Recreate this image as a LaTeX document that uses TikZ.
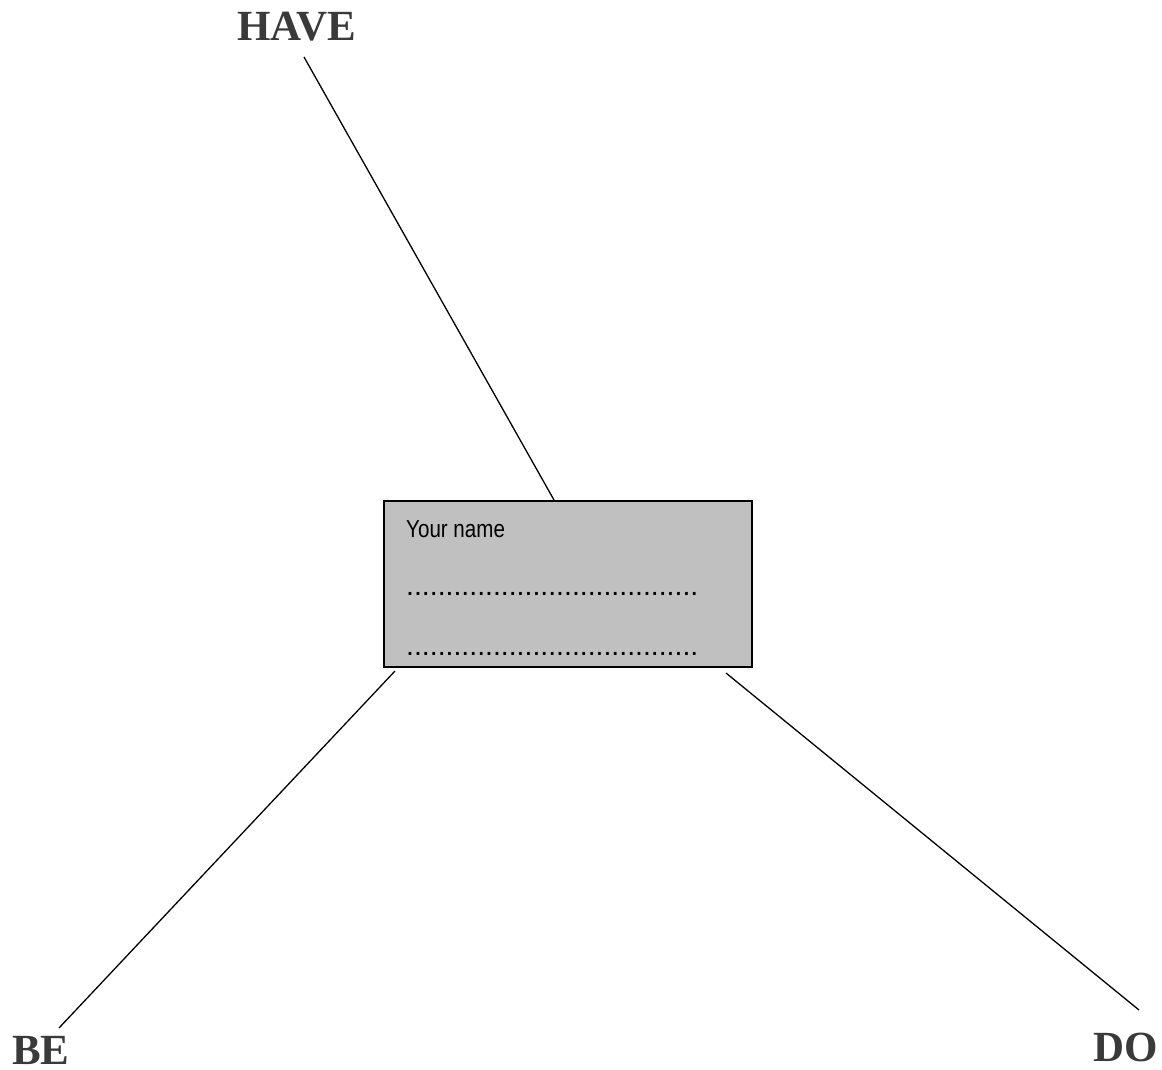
\documentclass[tikz,border=0pt]{standalone}
\usepackage{fontspec}
\setmainfont{Liberation Serif}
\newfontfamily\namefont[FakeStretch=0.84]{Liberation Sans}
\newfontfamily\dotfont{Liberation Sans}
\usepackage{tikz}
\usetikzlibrary{positioning}
\definecolor{wordgray}{HTML}{3A3A3A}
\definecolor{boxgray}{HTML}{C0C0C0}
\tikzset{
  spoke/.style={draw=black,line width=1.3pt},
  word/.style={inner sep=0pt,anchor=base west,text=wordgray,font=\fontsize{43}{48}\selectfont\bfseries},
  namebox/.style={draw=black,fill=boxgray,line width=2.8pt,minimum width=368pt,minimum height=166pt,inner sep=0pt},
  boxtext/.style={inner sep=0pt,anchor=base west,text=black}
}

\begin{document}
\begin{tikzpicture}[x=1pt,y=-1pt]
      \useasboundingbox (0,0) rectangle (1162,1070);
      \node[namebox] (box) at (568,584) {};
      \node[boxtext,font=\namefont\fontsize{24.5}{28}\selectfont] (name) at (406,537) {Your name};
      \node[boxtext,font=\dotfont\fontsize{28.4}{32}\selectfont] (dots1) at (406,595) {.....................................};
      \node[boxtext,font=\dotfont\fontsize{28.4}{32}\selectfont] (dots2) at (406,655) {.....................................};
      \node[word] (have) at (237,41) {HAVE};
      \node[word] (be) at (12,1064) {BE};
      \node[word] (do) at (1093,1061) {DO};
      \coordinate (haveend) at (304,57);
      \coordinate (haveroot) at (554,500);
      \coordinate (beend) at (59,1028);
      \coordinate (beroot) at (395,671);
      \coordinate (doend) at (1139,1010);
      \coordinate (doroot) at (726,673);
      \draw[spoke] (haveend) -- (haveroot);
      \draw[spoke] (beroot) -- (beend);
      \draw[spoke] (doroot) -- (doend);
    \end{tikzpicture}
\end{document}
